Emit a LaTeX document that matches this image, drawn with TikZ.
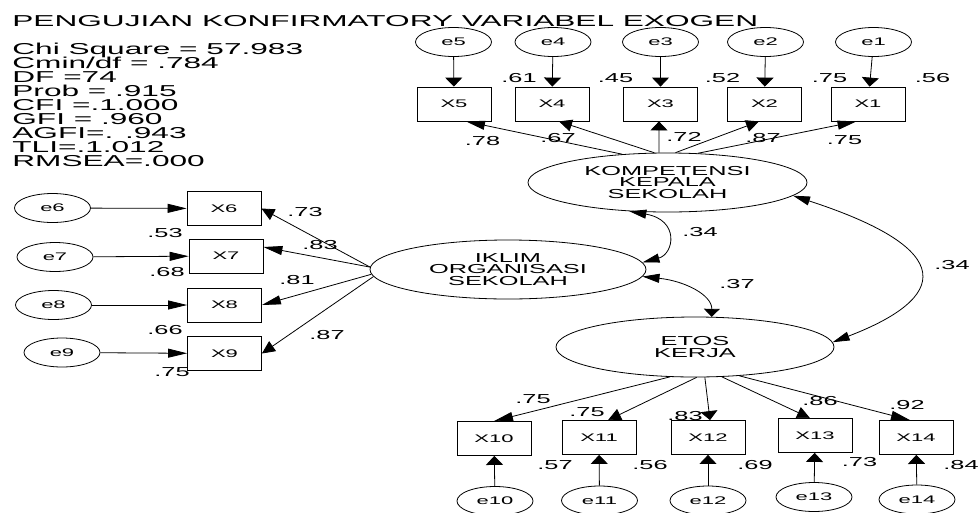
\documentclass[tikz,border=0pt]{standalone}
\usepackage{fontspec}
\setmainfont{Liberation Sans}
\newfontfamily\wf[FakeStretch=2.0]{Liberation Sans}
\newfontfamily\wn[FakeStretch=1.95]{Liberation Sans}
\usetikzlibrary{arrows.meta,shapes.geometric}
\tikzset{
  eobs/.style={ellipse, draw, minimum width=76pt, minimum height=29pt, inner sep=0pt, font=\wf\fontsize{11}{11}\selectfont},
  obs/.style={rectangle, draw, minimum width=74pt, minimum height=34pt, inner sep=0pt, font=\wf\fontsize{11}{11}\selectfont},
  lat/.style={ellipse, draw, inner sep=0pt, align=center, font=\wn\fontsize{13}{11.7}\selectfont},
  lab/.style={inner sep=0pt, font=\wn\fontsize{13}{13}\selectfont},
  txt/.style={inner sep=0pt, anchor=base west, font=\wf\fontsize{15.8}{14}\selectfont},
  arrV/.style={-{Triangle[length=9pt,width=17pt]}},
  arrH/.style={-{Triangle[length=19pt,width=9pt]}},
  arrD/.style={-{Triangle[length=13pt,width=12pt]}},
}
\begin{document}
\begin{tikzpicture}[x=1pt,y=-1pt,line width=0.8pt]
\useasboundingbox (0,0) rectangle (980,512);

% title and statistics
\node[txt] (title) at (12,26) {PENGUJIAN KONFIRMATORY VARIABEL EXOGEN};
\node[txt] (s1) at (12,54) {Chi Square = 57.983};
\node[txt] (s2) at (12,68) {Cmin/df = .784};
\node[txt] (s3) at (12,82) {DF =74};
\node[txt] (s4) at (12,96) {Prob = .915};
\node[txt] (s5) at (12,110) {CFI =.1.000};
\node[txt] (s6) at (12,124) {GFI = .960};
\node[txt] (s7) at (12,138) {AGFI=. .943};
\node[txt] (s8) at (12,152) {TLI=.1.012};
\node[txt] (s9) at (12,166) {RMSEA=.000};

% top group
\node[eobs] (e5) at (453.5,42) {e5};
\node[eobs] (e4) at (553,42) {e4};
\node[eobs] (e3) at (660.5,42) {e3};
\node[eobs] (e2) at (765.5,42) {e2};
\node[eobs] (e1) at (873.5,42) {e1};
\node[obs] (x5) at (454,104) {X5};
\node[obs] (x4) at (552,104) {X4};
\node[obs] (x3) at (660.5,104) {X3};
\node[obs] (x2) at (764.5,104) {X2};
\node[obs] (x1) at (868,104) {X1};
\foreach \i in {1,...,5} { \draw[arrV] (e\i) -- (x\i); }
\node[lat, minimum width=279pt, minimum height=59pt] (k) at (667.5,182.5) {KOMPETENSI\\KEPALA\\SEKOLAH};
\draw[arrH] (k.148.5) -- ([xshift=12pt]x5.south);
\draw[arrD] (k.114.6) -- ([xshift=7pt]x4.south);
\draw[arrV] (k.106) -- ([xshift=-1.5pt]x3.south);
\draw[arrD] (k.75.7) -- ([xshift=-5.5pt]x2.south);
\draw[arrH] (k.44) -- ([xshift=-11.5pt]x1.south);
\node[lab] (v5) at (519,78) {.61};
\node[lab] (v4) at (615.5,78) {.45};
\node[lab] (v3) at (722.5,78) {.52};
\node[lab] (v2) at (829.5,78) {.75};
\node[lab] (v1) at (932.5,78) {.56};
\node[lab] (l5) at (482.5,141) {.78};
\node[lab] (l4) at (558,138.5) {.67};
\node[lab] (l3) at (684,137) {.72};
\node[lab] (l2) at (763,138) {.87};
\node[lab] (l1) at (844.5,140) {.75};

% left group
\node[eobs] (e6) at (52.5,208) {e6};
\node[eobs] (e7) at (55,257) {e7};
\node[eobs] (e8) at (53.5,305) {e8};
\node[eobs] (e9) at (62,352.5) {e9};
\node[obs] (x6) at (224,208.5) {X6};
\node[obs] (x7) at (226,256) {X7};
\node[obs] (x8) at (224.5,305) {X8};
\node[obs] (x9) at (224.5,353.5) {X9};
\foreach \i in {6,...,9} { \draw[arrH] (e\i) -- (x\i); }
\node[lat, minimum width=276pt, minimum height=59pt] (ik) at (508,269.5) {IKLIM\\ORGANISASI\\SEKOLAH};
\draw[arrD] (ik.179) -- (x6.east);
\draw[arrH] (ik.179) -- ([yshift=9pt]x7.east);
\draw[arrH] (ik.182.1) -- (x8.east);
\draw[arrD] (ik.183.6) -- (x9.east);
\node[lab] (va6) at (165,233) {.53};
\node[lab] (va7) at (167,272) {.68};
\node[lab] (va8) at (165,330) {.66};
\node[lab] (va9) at (172,372.5) {.75};
\node[lab] (lo6) at (305,212) {.73};
\node[lab] (lo7) at (320,245) {.83};
\node[lab] (lo8) at (297,280) {.81};
\node[lab] (lo9) at (327,335) {.87};

% bottom group
\node[lat, minimum width=278pt, minimum height=60pt] (et) at (695,347) {ETOS\\KERJA};
\node[obs] (x10) at (494,438.5) {X10};
\node[obs] (x11) at (599,437.5) {X11};
\node[obs] (x12) at (708,437.5) {X12};
\node[obs] (x13) at (815,435.5) {X13};
\node[obs] (x14) at (916,437.5) {X14};
\node[eobs] (e10) at (495,501) {e10};
\node[eobs] (e11) at (599.5,500.5) {e11};
\node[eobs] (e12) at (708,500.5) {e12};
\node[eobs] (e13) at (814,497) {e13};
\node[eobs] (e14) at (917,499.5) {e14};
\foreach \i in {10,...,14} { \draw[arrV] (e\i) -- (x\i); }
\draw[arrH] (et.230.2) -- (x10.north);
\draw[arrD] (et.273.8) -- ([xshift=9pt]x11.north);
\draw[arrV] (et.288.4) -- ([xshift=2pt]x12.north);
\draw[arrD] (et.312) -- ([xshift=-5pt]x13.north);
\draw[arrH] (et.327.2) -- ([xshift=-6pt]x14.north);
\node[lab] (lb10) at (533,399.5) {.75};
\node[lab] (lb11) at (587,412) {.75};
\node[lab] (lb12) at (685,416) {.83};
\node[lab] (lb13) at (820,401.5) {.86};
\node[lab] (lb14) at (907,405) {.92};
\node[lab] (vb10) at (555,465.5) {.57};
\node[lab] (vb11) at (650,465) {.56};
\node[lab] (vb12) at (755,465) {.69};
\node[lab] (vb13) at (859.5,462) {.73};
\node[lab] (vb14) at (961,465) {.84};

% covariances
\draw[{Triangle[length=17pt,width=9pt]}-{Triangle[length=17pt,width=9pt]}]
  (k.217) .. controls (680,220) and (674,254) .. (ik.3);
\draw[{Triangle[length=17pt,width=9pt]}-{Triangle[length=8pt,width=16pt]}]
  (ik.357) .. controls (685,281) and (712,295) .. (et.61);
\draw[{Triangle[length=17pt,width=9pt]}-{Triangle[length=17pt,width=9pt]}]
  (k.354) .. controls (960,250) and (948,298) .. (et.2);
\node[lab] (c1) at (700,232) {.34};
\node[lab] (c2) at (737,284.5) {.37};
\node[lab] (c3) at (952,265.5) {.34};
\end{tikzpicture}
\end{document}
